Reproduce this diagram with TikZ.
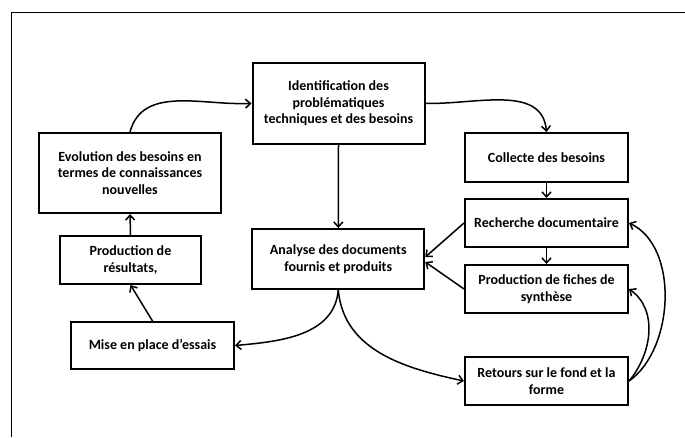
\documentclass[tikz,border=0pt]{standalone}
\usepackage{fontspec}
\setmainfont{Carlito}
\usetikzlibrary{arrows.meta}

\tikzset{
  etape/.style={draw, line width=2pt, align=center, inner sep=2pt,
    font=\bfseries\fontsize{14}{16.8}\selectfont},
  fleche/.style={line width=1.5pt, -{Straight Barb[length=5pt,width=9pt]}}
}

\begin{document}
\begin{tikzpicture}[x=1pt,y=1pt]
\useasboundingbox (0,0) rectangle (685,-437);
\draw[line width=0.9pt] (685,-12) -- (11,-12) -- (11,-437);

\node[etape, minimum width=172, minimum height=81] (ident) at (338.5,-103.3)
    {Identification des\\ probl\'ematiques\\ techniques et des besoins};
\node[etape, minimum width=182, minimum height=80] (evol) at (130,-173)
    {Evolution des besoins en\\ termes de connaissances\\ nouvelles};
\node[etape, minimum width=163, minimum height=49] (collecte) at (546.5,-157.5)
    {Collecte des besoins};
\node[etape, minimum width=163, minimum height=48] (recherche) at (546.5,-223)
    {Recherche documentaire};
\node[etape, minimum width=163, minimum height=48] (fiches) at (546.5,-289)
    {Production de fiches de\\ synth\`ese};
\node[etape, minimum width=172, minimum height=60] (analyse) at (338.3,-259)
    {Analyse des documents\\ fournis et produits};
\node[etape, minimum width=141, minimum height=48] (resultats) at (130.5,-260)
    {Production de\\ r\'esultats,};
\node[etape, minimum width=163, minimum height=47] (essais) at (152.5,-345.5)
    {Mise en place d'essais};
\node[etape, minimum width=163, minimum height=48] (retours) at (546.5,-381)
    {Retours sur le fond et la\\ forme};

\draw[fleche] (evol.north) to[out=75,in=183] (ident.west);
\draw[fleche] (ident.east) to[out=-2,in=95] (collecte.north);
\draw[fleche] (ident.south) -- (analyse.north);
\draw[fleche] (collecte.south) -- (recherche.north);
\draw[fleche] (recherche.south) -- (fiches.north);
\draw[fleche] (recherche.west) -- ([yshift=2]analyse.east);
\draw[fleche] (fiches.west) -- ([yshift=-3]analyse.east);
\draw[fleche] (resultats.north) -- (evol.south);
\draw[fleche] (essais.north) -- (resultats.south);
\draw[fleche] (analyse.south) to[out=-95,in=5] (essais.east);
\draw[fleche] (analyse.south) to[out=-85,in=168] (retours.west);
\draw[fleche] (retours.east) to[out=35,in=-25,looseness=0.9] (recherche.east);
\draw[fleche] (retours.east) to[out=50,in=-35] (fiches.east);
\end{tikzpicture}
\end{document}
